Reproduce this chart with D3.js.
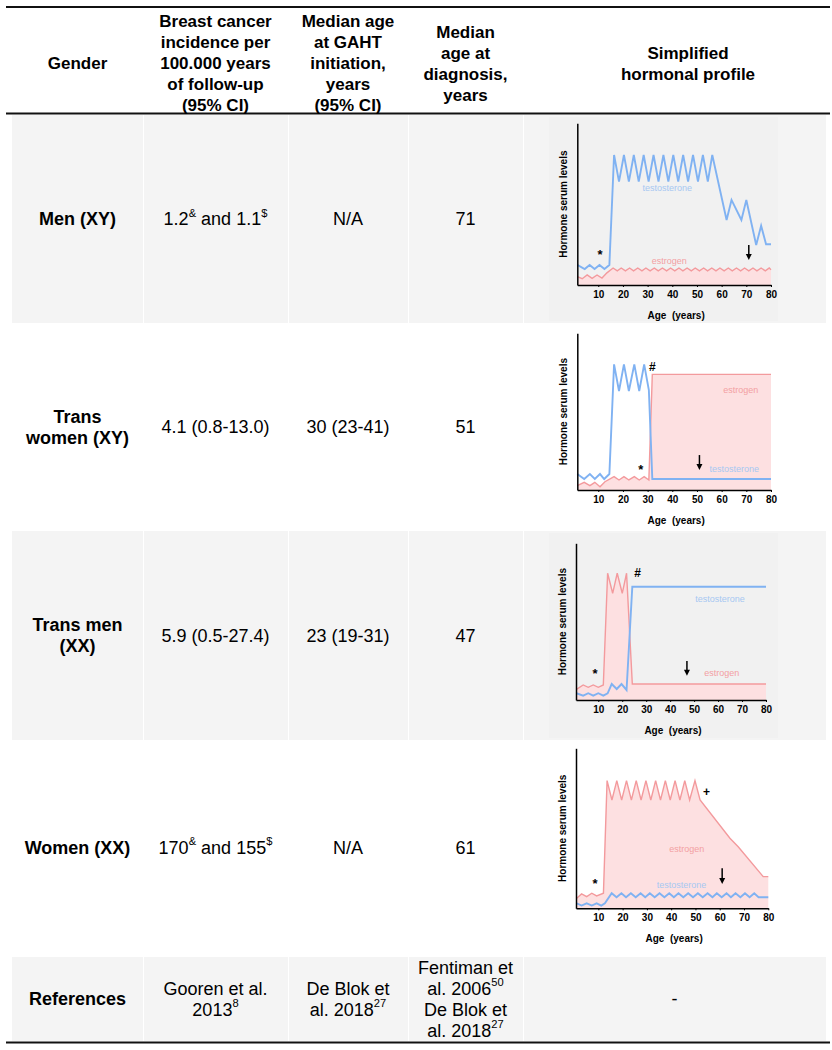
<!DOCTYPE html>
<html><head><meta charset="utf-8">
<script src="https://cdn.jsdelivr.net/npm/d3@7"></script>
<style>body{margin:0;background:#fff} svg{display:block}</style>
</head><body><svg id="c" width="832" height="1050"></svg>
<script>
// ---------------- DATA ----------------
const headers = [
  ["Gender"],
  ["Breast cancer","incidence per","100.000 years","of follow-up","(95% CI)"],
  ["Median age","at GAHT","initiation,","years","(95% CI)"],
  ["Median","age at","diagnosis,","years"],
  ["Simplified","hormonal profile"]
];
const genders = [["Men (XY)"],["Trans","women (XY)"],["Trans men","(XX)"],["Women (XX)"]];
const incidence = ["1.2^{&} and 1.1^{$}","4.1 (0.8-13.0)","5.9 (0.5-27.4)","170^{&} and 155^{$}"];
const gahtAge = ["N/A","30 (23-41)","23 (19-31)","N/A"];
const diagnosisAge = [71, 51, 47, 61];
const references = [["References"],["Gooren et al.","2013^{8}"],["De Blok et","al. 2018^{27}"],
  ["Fentiman et","al. 2006^{50}","De Blok et","al. 2018^{27}"],["-"]];
const ageTicks = [10,20,30,40,50,60,70,80];

const menTestosterone = [[1.5,12.4],[4.5,9.9],[6.5,12.4],[8.5,9.9],[10.5,12.4],[12.5,9.9],[14.5,12.4],[16.4,80.4],[18.4,63.9],[20.4,80.4],[22.4,63.9],[24.4,80.4],[26.4,63.9],[28.4,80.4],[30.4,63.9],[32.4,80.4],[34.4,63.9],[36.4,80.4],[38.4,63.9],[40.4,80.4],[42.4,63.9],[44.4,80.4],[46.4,63.9],[48.4,80.4],[50.4,63.9],[52.4,80.4],[54.4,63.9],[56.2,80.4],[62,40.2],[64,52.6],[68,40.2],[70,52.6],[74,24.7],[76,36.7],[78,25.2],[80,25.2]];
const menEstrogen = [[1.5,5.2],[3.5,3.9],[5.5,6.2],[7.5,4.1],[9.5,6.2],[11.5,4.3],[13.5,7.5],[16,10.5],[17.7,8.7],[19.3,10.5],[21,8.7],[22.7,10.5],[24.3,8.7],[26,10.5],[27.7,8.7],[29.3,10.5],[31,8.7],[32.7,10.5],[34.3,8.7],[36,10.5],[37.7,8.7],[39.3,10.5],[41,8.7],[42.7,10.5],[44.3,8.7],[46,10.5],[47.7,8.7],[49.3,10.5],[51,8.7],[52.7,10.5],[54.3,8.7],[56,10.5],[57.7,8.7],[59.3,10.5],[61,8.7],[62.7,10.5],[64.3,8.7],[66,10.5],[67.7,8.7],[69.3,10.5],[71,8.7],[72.7,10.5],[74.3,8.7],[76,10.5],[77.7,8.7],[79.3,10.5],[80,9.5]];
const transWomenTestosterone = [[1.5,10.2],[4.3,7],[6.6,10.2],[8.6,7],[10.7,10.2],[12.4,7],[14.5,10.2],[16.4,80.2],[18.4,63.2],[20.4,80.2],[22.4,63.2],[24.6,80.2],[26.6,63.2],[28.6,80.2],[30.5,63.8],[31.9,7],[80,7]];
const transWomenEstrogen = [[1.5,2.8],[4.3,4.9],[6.6,2.8],[8.6,4.9],[10.7,2.1],[12.7,5.3],[16.4,8.5],[18.4,6.4],[20.4,8.5],[22.4,6.4],[24.6,8.5],[26.6,6.4],[28.6,8.5],[30.5,6.4],[31.9,73.8],[80,73.8]];
const transMenTestosterone = [[0.9,4.3],[3.7,2.8],[5.8,4.3],[7.9,2.8],[10,4.3],[12.1,2.8],[13.9,4.3],[15.6,10.2],[17.7,7.0],[19.7,10.2],[21.8,6.4],[24.2,72.3],[80,72.3]];
const transMenEstrogen = [[0.9,6.8],[3.7,9.6],[5.8,8.1],[7.9,9.6],[10,8.1],[12.1,9.6],[13.9,80.9],[16,68.1],[17.9,80.9],[20,68.1],[21.8,80.9],[24.2,10.2],[80,10.2]];
const womenTestosterone = [[1.1,3.1],[3.1,1.7],[5.2,3.1],[7.3,1.7],[9.3,3.1],[11.2,1.7],[12.7,3.1],[15.5,9.4],[17.5,6.9],[19.5,9.4],[21.4,6.9],[23.4,9.4],[25.4,6.9],[27.4,9.4],[29.3,6.9],[31.2,9.4],[33.2,6.9],[35.2,9.4],[37.2,6.9],[39.2,9.4],[41.1,6.9],[43,9.4],[45,6.9],[47,9.4],[49,6.9],[51,9.4],[53,6.9],[55,9.4],[57,6.9],[58.8,9.4],[60.8,6.9],[62.8,9.4],[64.6,6.9],[66.5,9.4],[68.5,6.9],[70.4,9.4],[72.3,6.9],[74.2,9.4],[76,6.9],[80,6.9]];
const womenEstrogen = [[1.1,6.25],[3.1,9],[5.2,7.3],[7.3,9.4],[9.3,7.7],[12.1,9.4],[13.6,79.8],[15.6,67.7],[17.6,79.8],[19.6,67.7],[21.6,79.8],[23.6,67.7],[25.6,79.8],[27.6,67.7],[29.6,79.8],[31.6,67.7],[33.6,79.8],[35.6,67.7],[37.6,79.8],[39.6,67.7],[41.6,79.8],[43.6,67.7],[45.6,79.8],[47.6,67.7],[49.8,79.8],[51.9,67.7],[64.2,43.75],[67.6,38.5],[77.9,19.8],[80,19.8]];

// ---------------- LAYOUT ----------------
const svg = d3.select("#c");
const FONT = "'Liberation Sans', Arial, sans-serif";
const colX = [12,143,288,408,523,826];
const rowY = [115,323,531,740,955];
const refY = [957,1041];
const GREY = "#f4f4f4";
const LH = 21;
const TCOL = "#80b2f2", ECOL = "#f39a9d", EFILL = "#fde0e1";
const TLAB = "#a7c8f2", ELAB = "#f3a0a3";

function richText(sel, str) {
  const parts = str.split(/\^\{([^}]*)\}/);
  let pendingDown = false;
  parts.forEach((p, i) => {
    if (p === "") return;
    if (i % 2 === 1) {
      sel.append("tspan").attr("font-size", "62%").attr("dy", "-0.55em").text(p);
      pendingDown = true;
    } else {
      const t = sel.append("tspan").text(p);
      if (pendingDown) { t.attr("dy", "0.341em"); pendingDown = false; }
    }
  });
}
function cellText(lines, cx, cy, opts) {
  const n = lines.length;
  lines.forEach((ln, i) => {
    const t = svg.append("text").attr("x", cx).attr("y", cy + (i - (n-1)/2) * LH)
      .attr("text-anchor", "middle").attr("dominant-baseline", "central")
      .attr("font-family", FONT).attr("font-size", opts.size)
      .attr("font-weight", opts.bold ? "bold" : "normal").attr("fill", "#000");
    richText(t, ln);
  });
}

// backgrounds
const rowsAll = [[rowY[0],rowY[1]],[rowY[1],rowY[2]],[rowY[2],rowY[3]],[rowY[3],rowY[4]],refY];
rowsAll.forEach((r, i) => {
  if (i % 2 === 0) {
    for (let c = 0; c < 5; c++) {
      svg.append("rect").attr("x", colX[c] + (c ? 1 : 0)).attr("y", r[0])
        .attr("width", colX[c+1] - colX[c] - (c ? 1 : 0)).attr("height", r[1] - r[0])
        .attr("fill", GREY);
    }
    if (i < 4) {
      svg.append("rect").attr("x", 549).attr("y", r[0] + 2).attr("width", 229)
        .attr("height", r[1] - r[0] - 4).attr("fill", "#f1f1f1");
    }
  }
});

// rules
[[7,2],[113.5,2],[1042.5,2]].forEach(([y, w]) => {
  svg.append("line").attr("x1", 6).attr("x2", 830).attr("y1", y).attr("y2", y)
    .attr("stroke", "#111").attr("stroke-width", w);
});

const colC = d3.range(5).map(i => (colX[i] + colX[i+1]) / 2);
const headC = [colC[0], colC[1], colC[2], colC[3], 688];

// header
headers.forEach((h, i) => cellText(h, headC[i], 63, {size: 17, bold: true}));

// body rows
const rowC = rowsAll.map(r => (r[0] + r[1]) / 2);
genders.forEach((g, i) => {
  cellText(g, colC[0], rowC[i], {size: 18, bold: true});
  cellText([incidence[i]], colC[1], rowC[i], {size: 18});
  cellText([gahtAge[i]], colC[2], rowC[i], {size: 18});
  cellText([String(diagnosisAge[i])], colC[3], rowC[i], {size: 18});
});
references.forEach((r, i) => cellText(r, colC[i], rowC[4], {size: 18, bold: i === 0}));

// ---------------- MINI CHARTS ----------------
const charts = [
  {x:[1.5,80], xr:[577.3,771], yr:[285,123.3], T:menTestosterone, E:menEstrogen, age: diagnosisAge[0],
   tlab:[38,59.8], elab:[38.8,14.8], arrow:[24.7,15.5],
   marks:[["*",10.7,18.6]]},
  {x:[1.5,80], xr:[577.3,771], yr:[490,333.3], T:transWomenTestosterone, E:transWomenEstrogen, age: diagnosisAge[1],
   tlab:[65.1,13.4], elab:[67.7,63.8], arrow:[22.3,12.8],
   marks:[["*",27.2,12.8],["#",31.9,78.7]]},
  {x:[0.7,80], xr:[576,766], yr:[700,543.3], T:transMenTestosterone, E:transMenEstrogen, age: diagnosisAge[2],
   tlab:[60.8,64.3], elab:[61.5,17], arrow:[24.9,15.5],
   marks:[["*",8.6,16.6],["#",26.4,81.2]]},
  {x:[0.8,80], xr:[576,768.3], yr:[908.3,748.3], T:womenTestosterone, E:womenEstrogen, age: diagnosisAge[3],
   tlab:[44.3,14.6], elab:[46.4,37.1], arrow:[25,15.2],
   marks:[["*",8.6,15.2],["+",54.6,72.5]]}
];

charts.forEach(c => {
  const g = svg.append("g");
  const x = d3.scaleLinear().domain(c.x).range(c.xr);
  const y = d3.scaleLinear().domain([0,100]).range(c.yr);
  const area = d3.area().x(d => x(d[0])).y0(y(0)).y1(d => y(d[1]));
  const line = d3.line().x(d => x(d[0])).y(d => y(d[1]));
  g.append("path").attr("d", area(c.E)).attr("fill", EFILL);
  g.append("path").attr("d", line(c.E)).attr("fill", "none").attr("stroke", ECOL).attr("stroke-width", 1.4);
  g.append("path").attr("d", line(c.T)).attr("fill", "none").attr("stroke", TCOL).attr("stroke-width", 1.9);

  const xa = g.append("g").attr("transform", `translate(0,${c.yr[0]})`)
    .call(d3.axisBottom(x).tickValues(ageTicks).tickSize(2).tickSizeOuter(0).tickPadding(4));
  xa.selectAll("text").attr("font-family", FONT).attr("font-size", 10).attr("font-weight", "bold").attr("fill", "#000");
  xa.select(".domain").attr("stroke", "#000").attr("stroke-width", 1.5);
  xa.selectAll(".tick line").attr("stroke", "#000").attr("stroke-width", 1);
  const ya = g.append("g").attr("transform", `translate(${c.xr[0]},0)`)
    .call(d3.axisLeft(y).tickValues([]).tickSizeOuter(0));
  ya.select(".domain").attr("stroke", "#000").attr("stroke-width", 1.5);

  g.append("text").attr("x", (c.xr[0] + c.xr[1]) / 2 + 2).attr("y", c.yr[0] + 30)
    .attr("text-anchor", "middle").attr("dominant-baseline", "central")
    .attr("font-family", FONT).attr("font-size", 10).attr("font-weight", "bold")
    .style("white-space", "pre").text("Age  (years)");
  g.append("text").attr("transform", `translate(${c.xr[0] - 14},${(c.yr[0] + c.yr[1]) / 2}) rotate(-90)`)
    .attr("text-anchor", "middle").attr("dominant-baseline", "central")
    .attr("font-family", FONT).attr("font-size", 10).attr("font-weight", "bold")
    .text("Hormone serum levels");

  g.append("text").attr("x", x(c.tlab[0])).attr("y", y(c.tlab[1])).attr("text-anchor", "middle")
    .attr("dominant-baseline", "central").attr("font-family", FONT).attr("font-size", 9)
    .attr("fill", TLAB).text("testosterone");
  g.append("text").attr("x", x(c.elab[0])).attr("y", y(c.elab[1])).attr("text-anchor", "middle")
    .attr("dominant-baseline", "central").attr("font-family", FONT).attr("font-size", 9)
    .attr("fill", ELAB).text("estrogen");

  c.marks.forEach(m => {
    g.append("text").attr("x", x(m[1])).attr("y", y(m[2])).attr("text-anchor", "middle")
      .attr("dominant-baseline", "central").attr("font-family", FONT)
      .attr("font-size", m[0] === "*" ? 13 : 12).attr("font-weight", "bold").text(m[0]);
  });

  const ax = x(c.age), a0 = y(c.arrow[0]), a1 = y(c.arrow[1]);
  g.append("line").attr("x1", ax).attr("x2", ax).attr("y1", a0).attr("y2", a1 - 4)
    .attr("stroke", "#000").attr("stroke-width", 1.5);
  g.append("path").attr("d", `M${ax-3},${a1-6}L${ax+3},${a1-6}L${ax},${a1}Z`).attr("fill", "#000");
});
</script></body></html>
